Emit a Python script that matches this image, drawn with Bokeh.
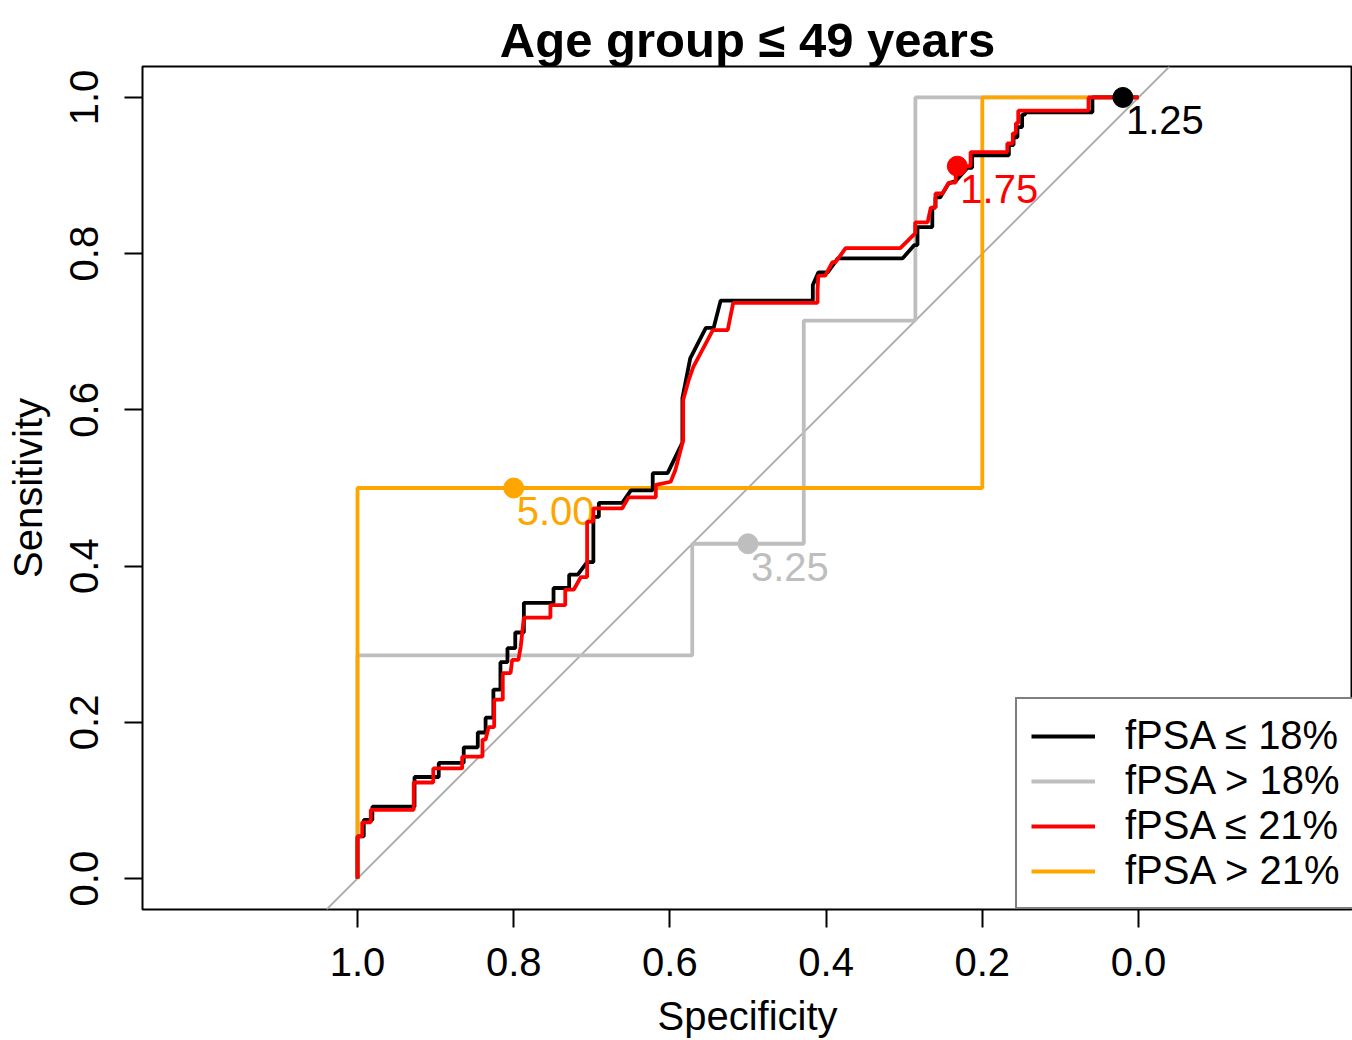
from bokeh.plotting import figure
from bokeh.models import (Range1d, FixedTicker, PrintfTickFormatter, Legend,
                          LegendItem, ColumnDataSource, Slope, Title, LinearAxis)
from bokeh.core.properties import value
from bokeh.embed import file_html
from bokeh.resources import INLINE

# ---------------- data ----------------
title_text = "Age group \u2264 49 years"
x_label = "Specificity"
y_label = "Sensitivity"
tick_values = [0.0, 0.2, 0.4, 0.6, 0.8, 1.0]

series_names = ["fPSA \u2264 18%", "fPSA > 18%", "fPSA \u2264 21%", "fPSA > 21%"]
series_colors = ["black", "#BEBEBE", "#FF0000", "#FFA500"]

spec_le18 = [1.000, 1.000, 0.992, 0.992, 0.981, 0.981, 0.927, 0.927, 0.896, 0.896,
             0.864, 0.864, 0.846, 0.846, 0.836, 0.836, 0.826, 0.826, 0.817, 0.817,
             0.808, 0.808, 0.798, 0.798, 0.787, 0.787, 0.749, 0.749, 0.729, 0.729,
             0.718, 0.706, 0.698, 0.698, 0.691, 0.691, 0.661, 0.650, 0.622, 0.622,
             0.603, 0.584, 0.584, 0.574, 0.554, 0.544, 0.535, 0.417, 0.417, 0.410,
             0.398, 0.385, 0.302, 0.287, 0.283, 0.283, 0.264, 0.264, 0.260, 0.260,
             0.254, 0.243, 0.234, 0.219, 0.213, 0.213, 0.166, 0.166, 0.160, 0.160,
             0.155, 0.155, 0.149, 0.149, 0.145, 0.145, 0.059, 0.059, 0.000]
sens_le18 = [0.000, 0.054, 0.054, 0.075, 0.075, 0.092, 0.092, 0.130, 0.130, 0.148,
             0.148, 0.168, 0.168, 0.187, 0.187, 0.206, 0.206, 0.242, 0.242, 0.277,
             0.277, 0.295, 0.295, 0.315, 0.315, 0.353, 0.353, 0.372, 0.372, 0.389,
             0.389, 0.405, 0.405, 0.463, 0.463, 0.481, 0.481, 0.497, 0.497, 0.519,
             0.519, 0.558, 0.615, 0.666, 0.705, 0.705, 0.740, 0.740, 0.760, 0.776,
             0.776, 0.794, 0.794, 0.811, 0.811, 0.834, 0.834, 0.859, 0.859, 0.872,
             0.872, 0.890, 0.893, 0.910, 0.910, 0.926, 0.926, 0.939, 0.939, 0.949,
             0.949, 0.962, 0.962, 0.978, 0.978, 0.981, 0.981, 1.000, 1.000]

spec_gt18 = [1.0, 1.0, 0.5714, 0.5714, 0.4286, 0.4286, 0.2857, 0.2857, 0.0]
sens_gt18 = [0.0, 0.2857, 0.2857, 0.4286, 0.4286, 0.7143, 0.7143, 1.0, 1.0]

spec_le21 = [1.000, 1.000, 0.994, 0.994, 0.983, 0.983, 0.928, 0.928, 0.903, 0.903,
             0.866, 0.866, 0.840, 0.840, 0.836, 0.832, 0.825, 0.825, 0.814, 0.814,
             0.804, 0.802, 0.794, 0.791, 0.787, 0.753, 0.753, 0.734, 0.734, 0.723,
             0.714, 0.706, 0.706, 0.698, 0.698, 0.661, 0.653, 0.618, 0.618, 0.599,
             0.593, 0.583, 0.583, 0.576, 0.570, 0.545, 0.526, 0.519, 0.411, 0.411,
             0.410, 0.401, 0.392, 0.388, 0.375, 0.305, 0.286, 0.286, 0.270, 0.266,
             0.260, 0.260, 0.251, 0.243, 0.234, 0.234, 0.215, 0.215, 0.168, 0.168,
             0.161, 0.161, 0.157, 0.157, 0.154, 0.154, 0.064, 0.064, 0.000]
sens_le21 = [0.000, 0.054, 0.054, 0.072, 0.072, 0.088, 0.088, 0.123, 0.123, 0.141,
             0.141, 0.156, 0.156, 0.178, 0.178, 0.194, 0.194, 0.229, 0.229, 0.263,
             0.263, 0.280, 0.280, 0.297, 0.334, 0.334, 0.350, 0.350, 0.370, 0.370,
             0.386, 0.386, 0.457, 0.457, 0.474, 0.474, 0.488, 0.488, 0.504, 0.508,
             0.523, 0.561, 0.613, 0.638, 0.655, 0.702, 0.702, 0.737, 0.737, 0.753,
             0.772, 0.772, 0.789, 0.789, 0.807, 0.807, 0.826, 0.840, 0.840, 0.859,
             0.859, 0.877, 0.877, 0.891, 0.891, 0.912, 0.912, 0.930, 0.930, 0.941,
             0.941, 0.954, 0.954, 0.967, 0.967, 0.983, 0.983, 1.000, 1.000]

spec_gt21 = [1.0, 1.0, 0.2, 0.2, 0.0]
sens_gt21 = [0.0, 0.5, 0.5, 1.0, 1.0]

# best thresholds (order: <=18, >18, <=21, >21)
best_spec = [0.020, 0.500, 0.232, 0.800]
best_sens = [1.000, 0.4286, 0.912, 0.500]
best_labels = ["1.25", "3.25", "1.75", "5.00"]

# ---------------- figure ----------------
FONT = "Liberation Sans"

p = figure(width=1352, height=1040, title=None,
           x_range=Range1d(1.2753, -0.274), y_range=Range1d(-0.0396, 1.0396),
           output_backend="svg", toolbar_location=None,
           min_border_left=142, min_border_right=0,
           min_border_top=66, min_border_bottom=130)
p.background_fill_color = "white"
p.border_fill_color = "white"
p.outline_line_color = "black"
p.outline_line_width = 2
p.xgrid.visible = False
p.ygrid.visible = False

x_axis = p.below[0]
y_axis = p.left[0]

for ax in (x_axis, y_axis):
    ax.ticker = FixedTicker(ticks=tick_values)
    ax.formatter = PrintfTickFormatter(format="%.1f")
    ax.major_tick_out = 18
    ax.major_tick_in = 0
    ax.minor_tick_out = 0
    ax.minor_tick_in = 0
    ax.major_tick_line_color = "black"
    ax.major_tick_line_width = 2
    ax.axis_line_color = None
    ax.major_label_text_font = FONT
    ax.major_label_text_font_size = "40px"
    ax.major_label_text_color = "black"
    ax.axis_label_text_font = FONT
    ax.axis_label_text_font_size = "40px"
    ax.axis_label_text_font_style = "normal"
    ax.axis_label_text_color = "black"

x_axis.axis_label = x_label
y_axis.axis_label = y_label
x_axis.major_label_standoff = 20
x_axis.axis_label_standoff = 15
y_axis.major_label_standoff = 26
y_axis.axis_label_standoff = 18
y_axis.major_label_orientation = "vertical"

# empty spacer (no ticks, no labels) between frame and title
spacer = LinearAxis(ticker=FixedTicker(ticks=[]), axis_line_color=None,
                    major_tick_out=10, major_tick_in=0, minor_tick_out=0,
                    minor_tick_in=0, major_tick_line_color="white",
                    minor_tick_line_color=None, major_label_standoff=0)
p.add_layout(spacer, "above")
p.add_layout(Title(text=title_text, text_font=FONT, text_font_size="49px",
                   text_font_style="bold", text_color="black", align="center",
                   standoff=0), "above")

# identity line
p.add_layout(Slope(gradient=-1, y_intercept=1, line_color="#A9A9A9",
                   line_width=1.8, level="underlay"))

LW = 3.8
r_gt18 = p.line(spec_gt18, sens_gt18, line_color=series_colors[1], line_width=LW)
r_gt21 = p.line(spec_gt21, sens_gt21, line_color=series_colors[3], line_width=LW)

lab_src = ColumnDataSource(dict(x=best_spec, y=best_sens, t=best_labels,
                                c=series_colors))
p.text(x="x", y="y", text="t", source=lab_src, text_color="c",
       text_font=value(FONT), text_font_size=value("40px"),
       text_align="left", text_baseline="alphabetic", x_offset=3, y_offset=23)

r_le18 = p.line(spec_le18, sens_le18, line_color=series_colors[0], line_width=LW)
r_le21 = p.line(spec_le21, sens_le21, line_color=series_colors[2], line_width=LW)

p.scatter(x="x", y="y", source=lab_src, size=20, fill_color="c", line_color="c")

legend = Legend(items=[
    LegendItem(label=series_names[0], renderers=[r_le18]),
    LegendItem(label=series_names[1], renderers=[r_gt18]),
    LegendItem(label=series_names[2], renderers=[r_le21]),
    LegendItem(label=series_names[3], renderers=[r_gt21]),
], location=(873, 0))
legend.label_text_font = FONT
legend.label_text_font_size = "40px"
legend.label_text_color = "black"
legend.glyph_width = 64
legend.glyph_height = 40
legend.label_standoff = 30
legend.spacing = 0
legend.padding = 14
legend.margin = 0
legend.border_line_color = "black"
legend.border_line_width = 2
legend.background_fill_color = "white"
legend.background_fill_alpha = 1.0
p.add_layout(legend)

open("out.html", "w").write(file_html(p, INLINE))
